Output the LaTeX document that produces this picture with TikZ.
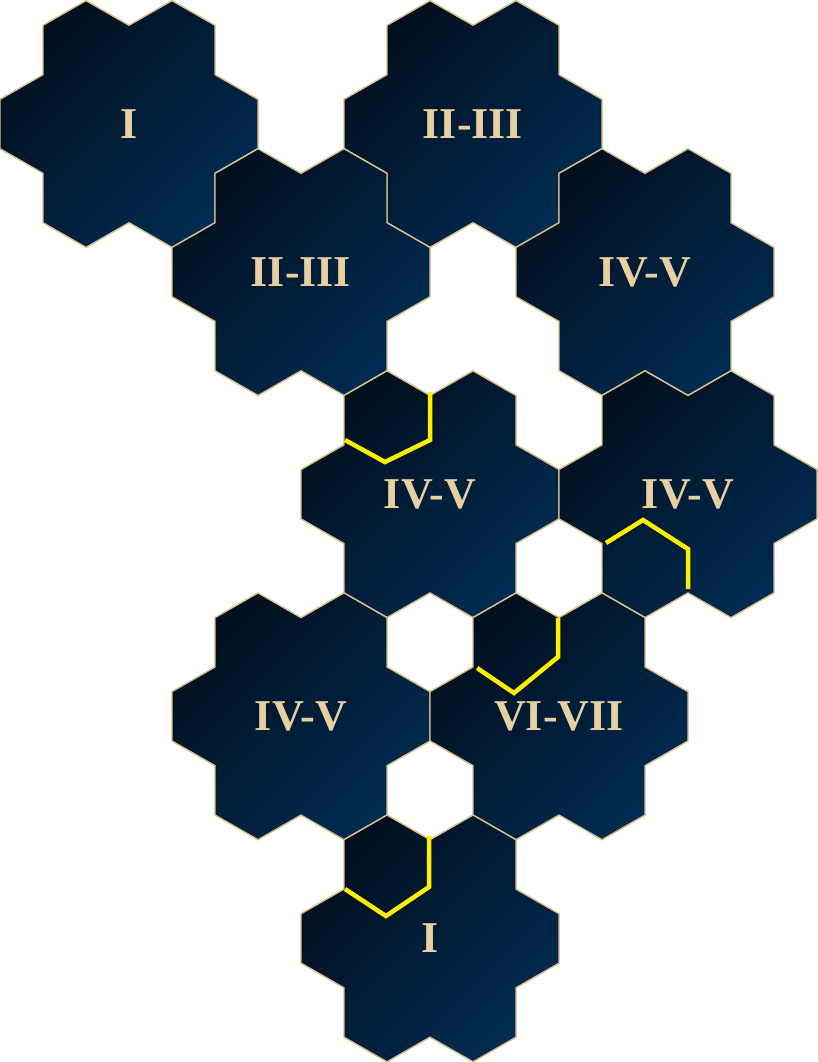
\documentclass[tikz,border=0pt]{standalone}
\usepackage{fontspec}
\setmainfont{Liberation Serif}
\definecolor{hexdark}{HTML}{010F1D}
\definecolor{hexlight}{HTML}{012B52}
\definecolor{hexedge}{HTML}{D9BF88}
\definecolor{hextext}{HTML}{E8D0A2}
\definecolor{hexyellow}{HTML}{FFEE00}
\begin{document}
\begin{tikzpicture}[x=1pt,y=-1pt,
  flowerstyle/.style={draw=hexedge, line width=1.4pt, top color=hexdark, bottom color=hexlight, shading angle=45},
  hexlabel/.style={text=hextext, font=\bfseries\fontsize{44}{50}\selectfont, inner sep=0pt},
  yellowline/.style={draw=hexyellow, line width=4.5pt, line join=miter}]
\useasboundingbox (0,0) rectangle (817,1062);
\foreach \x/\y/\t/\n in {129/124/I/c1, 473/124/II-III/c2, 301/272.08/II-III/c3, 645/272.08/IV-V/c4,
  430/494.2/IV-V/c5, 688/494.2/IV-V/c6, 301/716.32/IV-V/c7, 559/716.32/VI-VII/c8, 430/938.44/I/c9} {
  \path[flowerstyle, shift={(\x,\y)}]
    (-43,-123.4) -- (0,-98.72) -- (43,-123.4) -- (86,-98.72) -- (86,-49.36) -- (129,-24.68)
    -- (129,24.68) -- (86,49.36) -- (86,98.72) -- (43,123.4) -- (0,98.72) -- (-43,123.4)
    -- (-86,98.72) -- (-86,49.36) -- (-129,24.68) -- (-129,-24.68) -- (-86,-49.36) -- (-86,-98.72) -- cycle;
  \node[hexlabel] (\n) at (\x,\y) {\t};
}
\draw[yellowline] (345,440) -- (385,462) -- (430,440) -- (430,392);
\draw[yellowline] (606,543) -- (643,520) -- (688,549) -- (688,589);
\draw[yellowline] (477,668) -- (514,693) -- (558,657) -- (558,618);
\draw[yellowline] (345,889) -- (386,916) -- (429,887) -- (429,836);
\end{tikzpicture}
\end{document}
